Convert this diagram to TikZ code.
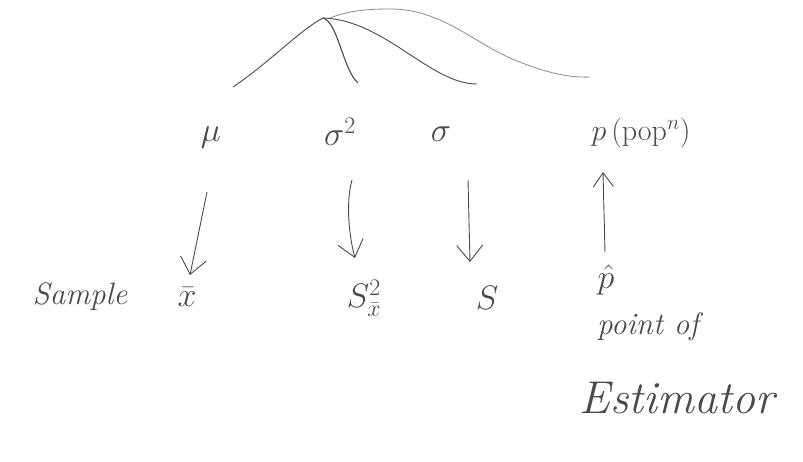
\RequirePackage{fix-cm}
\documentclass[tikz,border=0pt]{standalone}
\usetikzlibrary{arrows.meta}
\definecolor{pencil}{HTML}{4A4A4A}
\definecolor{lightpencil}{HTML}{8C8C8C}
\begin{document}
\begin{tikzpicture}[x=1pt,y=-1pt,
  hand/.style={text=pencil,inner sep=0pt,font=\fontsize{31}{33}\selectfont\itshape},
  sym/.style={text=pencil,inner sep=0pt,font=\fontsize{34}{36}\selectfont},
  curve/.style={draw=pencil,line width=0.9pt},
  arr/.style={draw=pencil,line width=0.9pt,-{Straight Barb[length=16pt,width=26pt,line width=0.9pt]}}]
\useasboundingbox[fill=white] (0,0) rectangle (803,461);
% distribution curves
\draw[curve] (233,87) .. controls (270,62) and (300,30) .. (323,18);
\draw[curve,line width=1.1pt] (323,18) .. controls (338,22) and (343,70) .. (358,83);
\draw[curve] (323,18) .. controls (385,20) and (430,84) .. (477,84);
\draw[draw=lightpencil,line width=0.8pt] (330,18) .. controls (350,10) and (370,9) .. (390,9)
  .. controls (440,9) and (470,40) .. (510,58) .. controls (545,73) and (570,78) .. (590,77);
% population parameters
\node[sym] (mu) at (211,137) {$\mu$};
\node[sym] (sig2) at (340,132) {$\sigma^2$};
\node[sym] (sig) at (441,134) {$\sigma$};
\node[sym,font=\fontsize{30}{32}\selectfont] (pop) at (641,133) {$p\,(\mathrm{pop}^n)$};
% sample statistics
\node[hand] (sample) at (80,297) {Sample};
\node[sym] (xbar) at (187,297) {$\bar{x}$};
\node[sym] (s2) at (364,298) {$S^2_{\bar{x}}$};
\node[sym] (s) at (487,298) {$S$};
\node[sym] (phat) at (606,280) {$\hat{p}$};
\node[hand] (point) at (648,327) {point of};
\node[hand,font=\fontsize{46}{48}\selectfont\itshape] (est) at (677,398) {Estimator};
% arrow end points
\coordinate (muA) at (207,192);
\coordinate (muB) at (190,275);
\coordinate (sig2A) at (352,180);
\coordinate (sig2B) at (355,258);
\coordinate (sigA) at (468,180);
\coordinate (sigB) at (470,262);
\coordinate (phatA) at (605,252);
\coordinate (popB) at (603,172);
% arrows
\draw[arr] (muA) -- (muB);
\draw[arr] (sig2A) .. controls (345,205) and (350,240) .. (sig2B);
\draw[arr] (sigA) -- (sigB);
\draw[arr,-{Straight Barb[length=14pt,width=20pt,line width=0.9pt]}] (phatA) -- (popB);
\end{tikzpicture}
\end{document}
